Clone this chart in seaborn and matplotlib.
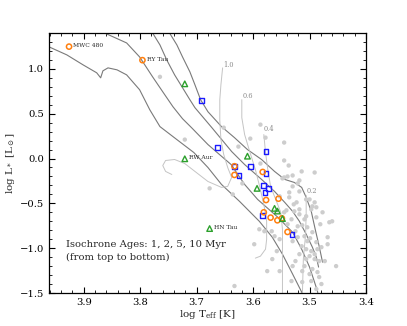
import matplotlib
matplotlib.use("Agg")
import matplotlib.pyplot as plt
import seaborn as sns
import pandas as pd
import numpy as np
from matplotlib.ticker import MultipleLocator

# ---------------- data ----------------
# isochrones (log Teff, log L)
iso1_T = [3.753, 3.748, 3.735, 3.725, 3.712, 3.703, 3.693, 3.680, 3.656, 3.633, 3.610, 3.585,
          3.562, 3.544, 3.527, 3.514, 3.506, 3.497, 3.490, 3.483, 3.477]
iso1_L = [1.489, 1.400, 1.267, 1.133, 0.967, 0.822, 0.656, 0.522, 0.356, 0.233, 0.100, -0.011,
          -0.144, -0.233, -0.267, -0.322, -0.433, -0.589, -0.789, -0.978, -1.156]
iso2_T = [3.783, 3.778, 3.765, 3.753, 3.739, 3.726, 3.712, 3.703, 3.673, 3.638, 3.615, 3.585,
          3.562, 3.544, 3.530, 3.518, 3.506, 3.495, 3.488, 3.484]
iso2_L = [1.489, 1.400, 1.267, 1.100, 0.933, 0.800, 0.656, 0.567, 0.344, 0.078, -0.067, -0.233,
          -0.367, -0.489, -0.589, -0.700, -0.844, -0.989, -1.100, -1.211]
iso5_T = [3.871, 3.863, 3.824, 3.801, 3.778, 3.760, 3.742, 3.725, 3.709, 3.680, 3.639, 3.615,
          3.592, 3.556, 3.530, 3.514, 3.500, 3.486, 3.483]
iso5_L = [1.489, 1.400, 1.289, 1.133, 0.911, 0.744, 0.578, 0.444, 0.344, 0.156, -0.067, -0.289,
          -0.456, -0.656, -0.822, -1.011, -1.211, -1.478, -1.589]
iso10_T = [3.961, 3.930, 3.901, 3.877, 3.870, 3.866, 3.857, 3.841, 3.824, 3.801, 3.783, 3.765,
           3.735, 3.705, 3.680, 3.656, 3.624, 3.589, 3.566, 3.548, 3.530, 3.514, 3.507]
iso10_L = [1.244, 1.156, 1.044, 0.956, 0.900, 0.978, 1.011, 0.989, 0.933, 0.767, 0.544, 0.356,
           0.211, 0.067, -0.100, -0.289, -0.478, -0.700, -0.878, -1.067, -1.289, -1.489, -1.589]

# evolutionary tracks
trk10_T = [3.654, 3.657, 3.659, 3.659, 3.657, 3.652, 3.645, 3.638, 3.645, 3.656, 3.680, 3.703,
           3.721, 3.739, 3.755, 3.760, 3.755, 3.744]
trk10_L = [1.011, 0.822, 0.656, 0.433, 0.211, 0.044, -0.100, -0.211, -0.311, -0.322, -0.256,
           -0.144, -0.056, -0.011, -0.022, -0.078, -0.144, -0.178]
trk06_T = [3.620, 3.620, 3.615, 3.606, 3.596, 3.588, 3.581, 3.576, 3.576, 3.578, 3.587, 3.596]
trk06_L = [0.656, 0.456, 0.267, 0.078, -0.122, -0.322, -0.511, -0.700, -0.900, -1.011, -1.089, -1.111]
trk04_T = [3.581, 3.578, 3.574, 3.569, 3.560, 3.551, 3.548, 3.548, 3.548]
trk04_L = [0.267, 0.067, -0.122, -0.311, -0.456, -0.600, -0.789, -1.122, -1.589]
trk02_T = [3.506, 3.506, 3.507, 3.511, 3.513]
trk02_L = [-0.411, -0.622, -0.844, -1.122, -1.589]
track_labels = ["1.0", "0.6", "0.4", "0.2"]
track_label_T = [3.653, 3.619, 3.581, 3.505]
track_label_L = [1.04, 0.70, 0.33, -0.36]

# background sample (gray)
bg_T = [3.765, 3.721, 3.652, 3.626, 3.605, 3.587, 3.578, 3.545, 3.587, 3.545, 3.537, 3.514, 3.491,
        3.530, 3.521, 3.548, 3.677, 3.619, 3.636, 3.539, 3.530, 3.518, 3.500, 3.523, 3.541, 3.518,
        3.495, 3.506, 3.536, 3.553, 3.558, 3.536, 3.528, 3.506, 3.497, 3.527, 3.518, 3.488, 3.509,
        3.532, 3.539, 3.465, 3.521, 3.504, 3.495, 3.509, 3.521, 3.530, 3.504, 3.488, 3.468, 3.514,
        3.506, 3.497, 3.491, 3.500, 3.506, 3.491, 3.483, 3.509, 3.495, 3.486, 3.500, 3.530, 3.553,
        3.598, 3.566, 3.575, 3.453, 3.483, 3.497, 3.513, 3.532, 3.479, 3.488, 3.468, 3.488, 3.477,
        3.545, 3.633, 3.589, 3.558, 3.553, 3.567, 3.460, 3.580, 3.562, 3.481, 3.491, 3.518, 3.545,
        3.479, 3.518, 3.525, 3.513, 3.473, 3.486, 3.525, 3.513, 3.499]
bg_L = [0.911, 0.211, 0.344, 0.133, 0.222, 0.378, 0.233, 0.178, -0.056, -0.022, -0.078, -0.144,
        -0.156, -0.189, -0.278, -0.222, -0.333, -0.278, -0.400, -0.200, -0.311, -0.367, -0.456,
        -0.489, -0.578, -0.567, -0.533, -0.644, -0.378, -0.422, -0.578, -0.433, -0.511, -0.456,
        -0.567, -0.589, -0.622, -0.656, -0.678, -0.678, -0.733, -0.711, -0.756, -0.767, -0.822,
        -0.867, -0.878, -0.922, -0.922, -0.933, -0.956, -0.978, -1.011, -1.033, -1.067, -1.089,
        -1.122, -1.122, -1.144, -1.200, -1.233, -1.267, -1.289, -1.200, -1.256, -0.956, -1.122,
        -1.256, -1.200, -1.322, -1.367, -1.378, -1.367, -1.400, -1.456, -0.878, -0.544, -0.600,
        -0.600, -1.422, -0.789, -1.033, -0.900, -0.811, -0.700, -0.811, -0.867, -0.733, -0.489,
        -0.244, -0.211, -0.989, -1.067, -1.144, -1.256, -1.144, -1.011, -0.811, -0.744, -0.889]

# targets
orange_T = [3.926, 3.796, 3.633, 3.633, 3.583, 3.577, 3.555, 3.581, 3.569, 3.557, 3.549, 3.539]
orange_L = [1.248, 1.097, -0.086, -0.183, -0.150, -0.463, -0.448, -0.600, -0.659, -0.689, -0.667, -0.819]
blue_T = [3.692, 3.663, 3.577, 3.633, 3.605, 3.625, 3.577, 3.581, 3.573, 3.579, 3.583, 3.531]
blue_L = [0.648, 0.119, 0.074, -0.092, -0.092, -0.189, -0.170, -0.300, -0.337, -0.381, -0.633, -0.844]
green_T = [3.721, 3.721, 3.677, 3.610, 3.593, 3.562, 3.557, 3.548]
green_L = [0.833, -0.003, -0.781, 0.026, -0.333, -0.556, -0.586, -0.670]

names = ["MWC 480", "RY Tau", "RW Aur", "HN Tau"]
names_T = [3.926, 3.796, 3.721, 3.677]
names_L = [1.248, 1.097, -0.003, -0.781]

# ---------------- plotting ----------------
sns.set_theme(style="ticks")
plt.rcParams["font.family"] = ["DejaVu Serif"]
plt.rcParams["mathtext.fontset"] = "dejavuserif"

fig = plt.figure(figsize=(4.07, 3.26), dpi=100)
ax = fig.add_axes([0.1197, 0.1012, 0.7796, 0.7976])

iso_color = "#7a7a7a"
for T, L in [(iso1_T, iso1_L), (iso2_T, iso2_L), (iso5_T, iso5_L), (iso10_T, iso10_L)]:
    sns.lineplot(x=T, y=L, sort=False, estimator=None, color=iso_color, lw=0.8, ax=ax)

trk_color = "#c4c4c4"
for T, L in [(trk10_T, trk10_L), (trk06_T, trk06_L), (trk04_T, trk04_L), (trk02_T, trk02_L)]:
    sns.lineplot(x=T, y=L, sort=False, estimator=None, color=trk_color, lw=0.7, ax=ax)
for lab, T, L in zip(track_labels, track_label_T, track_label_L):
    ax.text(T, L, lab, fontsize=4.8, color="#8a8a8a", ha="left", va="center")

sns.scatterplot(x=bg_T, y=bg_L, color="#cdcdcd", s=10, edgecolor="none", ax=ax, zorder=2)

sns.scatterplot(x=orange_T, y=orange_L, marker="o", s=14, facecolor="none",
                edgecolor="#ff7f0e", linewidth=1.1, ax=ax, zorder=4)
sns.scatterplot(x=blue_T, y=blue_L, marker="s", s=12, facecolor="none",
                edgecolor="#1a1aff", linewidth=1.0, ax=ax, zorder=3)
sns.scatterplot(x=green_T, y=green_L, marker="^", s=16, facecolor="none",
                edgecolor="#2ca02c", linewidth=1.0, ax=ax, zorder=5)

for n, T, L in zip(names, names_T, names_L):
    ax.annotate(n, (T, L), xytext=(3, 0.8), textcoords="offset points",
                fontsize=4.3, ha="left", va="center")

ax.text(3.931, -1.03, "Isochrone Ages: 1, 2, 5, 10 Myr\n(from top to bottom)",
        fontsize=7.2, ha="left", va="center", linespacing=1.45)

ax.set_xlim(3.962, 3.40)
ax.set_ylim(-1.5, 1.4)
ax.xaxis.set_major_locator(MultipleLocator(0.1))
ax.xaxis.set_minor_locator(MultipleLocator(0.02))
ax.yaxis.set_major_locator(MultipleLocator(0.5))
ax.yaxis.set_minor_locator(MultipleLocator(0.1))
ax.tick_params(which="both", direction="in", top=True, right=True, labelsize=7.2,
               colors="black")
ax.tick_params(which="major", length=4, width=0.8)
ax.tick_params(which="minor", length=2, width=0.6)
for sp in ax.spines.values():
    sp.set_linewidth(0.9)
    sp.set_color("black")
ax.set_xlabel(r"log T$_{\rm eff}$ [K]", fontsize=7.5, labelpad=1)
ax.set_ylabel(r"log L$_*$ [L$_\odot$]", fontsize=7.5, labelpad=2)

fig.savefig("out.png", dpi=100)
